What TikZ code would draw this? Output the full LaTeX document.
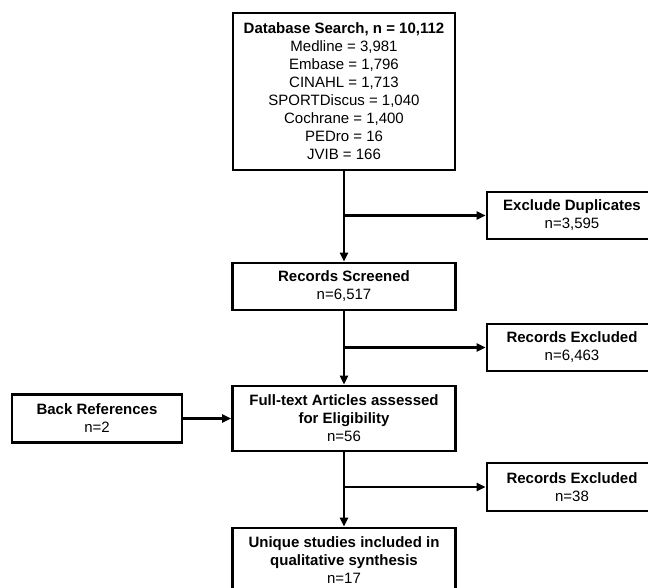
\documentclass[tikz,border=0pt]{standalone}
\usepackage{fontspec}
\setmainfont{Liberation Sans}
\usetikzlibrary{arrows.meta,calc}
\begin{document}
\begin{tikzpicture}[x=1pt,y=-1pt,
  box/.style={draw=black,line width=2.6pt,fill=white,inner sep=0pt,align=center,
    font=\fontsize{15}{18}\selectfont},
  conn/.style={line width=2.2pt,-{Triangle[length=9pt,width=8pt]}},
  plain/.style={line width=2.2pt}]
\useasboundingbox (0,0) rectangle (648,587);
\node[box,minimum width=222pt,minimum height=157pt] (db) at (344,91.5)
  {\textbf{Database Search, n = 10,112}\\Medline = 3,981\\Embase = 1,796\\CINAHL = 1,713\\SPORTDiscus = 1,040\\Cochrane = 1,400\\PEDro = 16\\JVIB = 166};
\node[box,minimum width=170pt,minimum height=47pt] (dup) at (572,215.5)
  {\textbf{Exclude Duplicates}\\n=3,595};
\node[box,minimum width=223pt,minimum height=47pt] (scr) at (344,286.5)
  {\textbf{Records Screened}\\n=6,517};
\node[box,minimum width=170pt,minimum height=47pt] (exa) at (572,347.5)
  {\textbf{Records Excluded}\\n=6,463};
\node[box,minimum width=223pt,minimum height=65pt] (full) at (344,418.5)
  {\textbf{Full-text Articles assessed}\\\textbf{for Eligibility}\\n=56};
\node[box,minimum width=170pt,minimum height=48pt] (back) at (97,418.5)
  {\textbf{Back References}\\n=2};
\node[box,minimum width=170pt,minimum height=48pt] (exb) at (572,487)
  {\textbf{Records Excluded}\\n=38};
\node[box,minimum width=223pt,minimum height=65pt] (uni) at (344,560.5)
  {\textbf{Unique studies included in}\\\textbf{qualitative synthesis}\\n=17};
\coordinate (b1) at (db.south |- dup.west);
\coordinate (b2) at (scr.south |- exa.west);
\coordinate (b3) at (full.south |- exb.west);
\draw[conn] (db.south) -- (scr.north);
\draw[conn] (b1) -- (dup.west);
\draw[conn] (scr.south) -- (full.north);
\draw[conn] (b2) -- (exa.west);
\draw[conn] (back.east) -- (full.west);
\draw[conn] (full.south) -- (uni.north);
\draw[conn] (b3) -- (exb.west);
\end{tikzpicture}
\end{document}
